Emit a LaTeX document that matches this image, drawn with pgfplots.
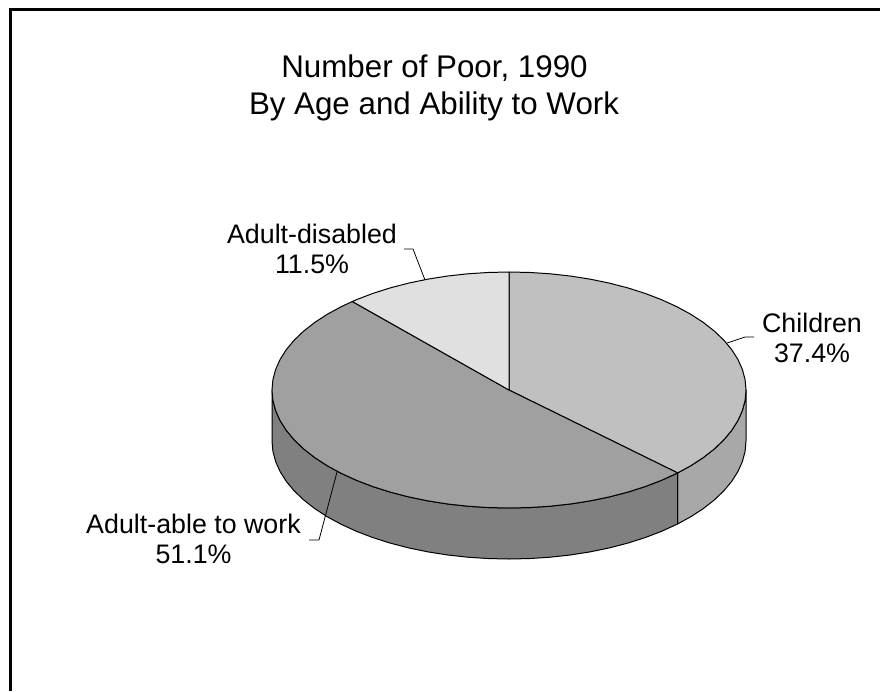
\documentclass[border=0pt]{standalone}
\usepackage{fontspec}
\setmainfont{Liberation Sans}
\usepackage{pgfplots}
\pgfplotsset{compat=1.18}

\definecolor{childtop}{HTML}{C0C0C0}
\definecolor{childside}{HTML}{A8A8A8}
\definecolor{abletop}{HTML}{A0A0A0}
\definecolor{ableside}{HTML}{808080}
\definecolor{distop}{HTML}{E0E0E0}

\tikzset{
    pie/.style={draw=black, line width=1pt, line join=round},
    lbl/.style={font=\fontsize{26.8}{30}\selectfont, anchor=base, inner sep=0pt},
    ttl/.style={font=\fontsize{31.3}{36}\selectfont, anchor=base, inner sep=0pt},
}

\begin{document}
\begin{tikzpicture}
% hide axis leaves the page to what is drawn, so fix the page size here
\path (0,0) rectangle (880pt,691pt);
\begin{axis}[
    at={(0,0)}, anchor=south west,
    hide axis,
    scale only axis,
    width=880pt, height=691pt,
    xmin=0, xmax=880, ymin=0, ymax=691,
    y dir=reverse,
    every axis plot/.append style={no markers},
]
% frame, open at the right and at the bottom
\addplot[black, line width=3pt, forget plot] coordinates {(10.5,691) (10.5,9.5) (880,9.5)};

% sides
\addplot[pie, fill=childside] coordinates {
(746,390) (745.1,400.28) (742.4,410.49) (737.93,420.54) (731.71,430.36) (723.8,439.87)
(714.25,449) (703.14,457.68) (690.55,465.85) (677.63,472.92)
(677.63,523.92) (690.55,516.85) (703.14,508.68) (714.25,500) (723.8,490.87)
(731.71,481.36) (737.93,471.54) (742.4,461.49) (745.1,451.28) (746,441)
} -- cycle;
\addplot[pie, fill=ableside] coordinates {
(677.63,472.92) (676.58,473.44) (661.34,480.39) (644.94,486.66) (627.5,492.19) (609.16,496.94)
(590.06,500.88) (570.34,503.98) (550.16,506.21) (529.66,507.55) (509,508) (488.34,507.55)
(467.84,506.21) (447.66,503.98) (427.94,500.88) (408.84,496.94) (390.5,492.19) (373.06,486.66)
(356.66,480.39) (341.42,473.44) (327.45,465.85) (314.86,457.68) (303.75,449) (294.2,439.87)
(286.29,430.36) (280.07,420.54) (275.6,410.49) (272.9,400.28) (272,390)
(272,441) (272.9,451.28) (275.6,461.49) (280.07,471.54) (286.29,481.36) (294.2,490.87)
(303.75,500) (314.86,508.68) (327.45,516.85) (341.42,524.44) (356.66,531.39) (373.06,537.66)
(390.5,543.19) (408.84,547.94) (427.94,551.88) (447.66,554.98) (467.84,557.21) (488.34,558.55)
(509,559) (529.66,558.55) (550.16,557.21) (570.34,554.98) (590.06,551.88) (609.16,547.94)
(627.5,543.19) (644.94,537.66) (661.34,531.39) (676.58,524.44) (677.63,523.92)
} -- cycle;

% top: Children 37.4
\addplot[pie, fill=childtop] coordinates {
(509,390) (509,272) (529.66,272.45) (550.16,273.79) (570.34,276.02) (590.06,279.12)
(609.16,283.06) (627.5,287.81) (644.94,293.34) (661.34,299.61) (676.58,306.56) (690.55,314.15)
(703.14,322.32) (714.25,331) (723.8,340.13) (731.71,349.64) (737.93,359.46) (742.4,369.51)
(745.1,379.72) (746,390) (745.1,400.28) (742.4,410.49) (737.93,420.54) (731.71,430.36)
(723.8,439.87) (714.25,449) (703.14,457.68) (690.55,465.85) (677.63,472.92)
} -- cycle;
% top: Adult-able to work 51.1
\addplot[pie, fill=abletop] coordinates {
(509,390) (677.63,472.92) (676.58,473.44) (661.34,480.39) (644.94,486.66) (627.5,492.19)
(609.16,496.94) (590.06,500.88) (570.34,503.98) (550.16,506.21) (529.66,507.55) (509,508)
(488.34,507.55) (467.84,506.21) (447.66,503.98) (427.94,500.88) (408.84,496.94) (390.5,492.19)
(373.06,486.66) (356.66,480.39) (341.42,473.44) (327.45,465.85) (314.86,457.68) (303.75,449)
(294.2,439.87) (286.29,430.36) (280.07,420.54) (275.6,410.49) (272.9,400.28) (272,390)
(272.9,379.72) (275.6,369.51) (280.07,359.46) (286.29,349.64) (294.2,340.13) (303.75,331)
(314.86,322.32) (327.45,314.15) (341.42,306.56) (352.3,301.5)
} -- cycle;
% top: Adult-disabled 11.5
\addplot[pie, fill=distop] coordinates {
(509,390) (352.3,301.5) (356.66,299.61) (373.06,293.34) (390.5,287.81) (408.84,283.06)
(427.94,279.12) (447.66,276.02) (467.84,273.79) (488.34,272.45) (509,272)
} -- cycle;

% leader lines
\addplot[black, line width=0.8pt] coordinates {(727,343) (745,337) (754,337)};
\addplot[black, line width=0.8pt] coordinates {(337,472) (319,540) (309,540)};
\addplot[black, line width=0.8pt] coordinates {(425,280) (413,249) (404,249)};

\node[ttl] at (axis cs:434.5,77.3) {Number of Poor, 1990};
\node[ttl] at (axis cs:434,114.7) {By Age and Ability to Work};

\node[lbl] at (axis cs:812,332) {Children};
\node[lbl] at (axis cs:812,362) {37.4\%};
\node[lbl] at (axis cs:193.5,533) {Adult-able to work};
\node[lbl] at (axis cs:193.5,563) {51.1\%};
\node[lbl] at (axis cs:312,243) {Adult-disabled};
\node[lbl] at (axis cs:312,273) {11.5\%};
\end{axis}
\end{tikzpicture}
\end{document}
